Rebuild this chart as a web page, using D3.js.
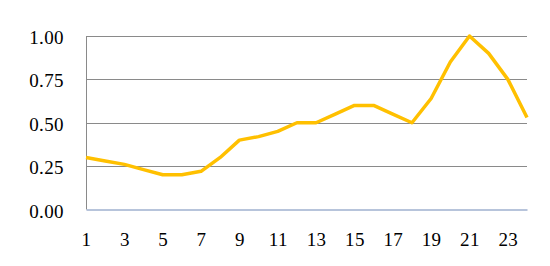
<!DOCTYPE html>
<html>
<head>
<meta charset="utf-8">
<script src="https://cdn.jsdelivr.net/npm/d3@7"></script>
<style>
  body { margin: 0; background: #fff; }
  svg text { font-family: "Liberation Serif", "Times New Roman", serif; font-size: 19px; letter-spacing: 0.4px; }
</style>
</head>
<body>
<div id="wrapper"></div>
<script>
// data
const hours = d3.range(1, 25);
const values = [0.30, 0.28, 0.26, 0.23, 0.20, 0.20, 0.22, 0.30, 0.40, 0.42, 0.45, 0.50,
                0.50, 0.55, 0.60, 0.60, 0.55, 0.50, 0.64, 0.85, 1.00, 0.90, 0.75, 0.53];
const yTicks = [0, 0.25, 0.5, 0.75, 1];
const xTickLabels = hours.filter(h => h % 2 === 1);

const dataset = hours.map((h, i) => ({ hour: h, value: values[i] }));
const xAccessor = d => d.hour;
const yAccessor = d => d.value;

// dimensions
let dimensions = {
  width: 550,
  height: 266,
  marginTop: 36,
  marginRight: 23,
  marginBottom: 56.5,
  marginLeft: 86
};
dimensions.boundedWidth = dimensions.width - dimensions.marginLeft - dimensions.marginRight;
dimensions.boundedHeight = dimensions.height - dimensions.marginTop - dimensions.marginBottom;

const wrapper = d3.select("#wrapper")
  .append("svg")
    .attr("width", dimensions.width)
    .attr("height", dimensions.height);

const bounds = wrapper.append("g")
    .attr("transform", `translate(${dimensions.marginLeft},${dimensions.marginTop})`);

// scales
const xScale = d3.scalePoint()
  .domain(hours)
  .range([0, dimensions.boundedWidth]);

const yScale = d3.scaleLinear()
  .domain([0, 1])
  .range([dimensions.boundedHeight, 0]);

// gridlines
bounds.selectAll(".grid")
    .data(yTicks.filter(t => t > 0))
  .enter().append("line")
    .attr("class", "grid")
    .attr("x1", 0)
    .attr("x2", dimensions.boundedWidth)
    .attr("y1", d => Math.round(yScale(d)) + 0.5)
    .attr("y2", d => Math.round(yScale(d)) + 0.5)
    .attr("stroke", "#8a8a8a")
    .attr("stroke-width", 1);

// y axis
const yAxis = bounds.append("g")
  .call(d3.axisLeft(yScale).tickValues(yTicks).tickFormat(d3.format(".2f")).tickSize(0).tickPadding(22));
yAxis.select(".domain").remove();
yAxis.selectAll("text").attr("dy", "0.4em").attr("fill", "#000");

bounds.append("line")
    .attr("x1", 0.5).attr("x2", 0.5)
    .attr("y1", 0).attr("y2", dimensions.boundedHeight)
    .attr("stroke", "#8a8a8a");

// x axis
const xAxis = bounds.append("g")
  .attr("transform", `translate(0,${dimensions.boundedHeight})`)
  .call(d3.axisBottom(xScale).tickValues(xTickLabels).tickSize(0).tickPadding(23));
xAxis.select(".domain").attr("stroke", "#9fb0cf").attr("stroke-width", 1.5);
xAxis.selectAll("text").attr("fill", "#000");

// line
const lineGenerator = d3.line()
  .x(d => xScale(xAccessor(d)))
  .y(d => yScale(yAccessor(d)));

bounds.append("path")
    .attr("d", lineGenerator(dataset))
    .attr("fill", "none")
    .attr("stroke", "#ffc000")
    .attr("stroke-width", 3.5)
    .attr("stroke-linejoin", "round");
</script>
</body>
</html>
